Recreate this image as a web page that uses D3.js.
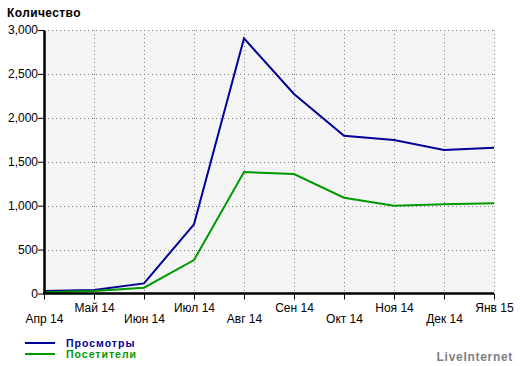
<!DOCTYPE html>
<html>
<head>
<meta charset="utf-8">
<script src="https://cdn.jsdelivr.net/npm/d3@7/dist/d3.min.js"></script>
<style>
  body { margin: 0; background: #fff; }
  text { font-family: Arial, "Liberation Sans", sans-serif; }
</style>
</head>
<body>
<svg id="chart" width="520" height="366"></svg>
<script>
// Data
var months = ["Апр 14", "Май 14", "Июн 14", "Июл 14", "Авг 14", "Сен 14", "Окт 14", "Ноя 14", "Дек 14", "Янв 15"];
var views = [28, 40, 115, 788, 2905, 2271, 1797, 1748, 1634, 1660];
var visitors = [14, 28, 66, 381, 1383, 1360, 1091, 1000, 1016, 1027];
var yTicks = [0, 500, 1000, 1500, 2000, 2500, 3000];

var series = [
    { name: "Просмотры", color: "#000099", values: views },
    { name: "Посетители", color: "#009900", values: visitors }
];

var svg = d3.select("#chart");
// plot box (note: "top" is taken by window.top)
var plot = { left: 44, right: 494, top: 30, bottom: 293.5 };

var x = d3.scalePoint().domain(months).range([plot.left, plot.right]);
var y = d3.scaleLinear().domain([0, 3000]).range([plot.bottom, plot.top]);

// Plot background
svg.append("rect")
    .attr("x", plot.left).attr("y", plot.top)
    .attr("width", plot.right - plot.left).attr("height", plot.bottom - plot.top)
    .style("fill", "#f4f4f4");

// Dotted grid
var grid = svg.append("g").attr("id", "grid");
grid.selectAll(".hgrid")
    .data(yTicks.filter(d => d > 0))
    .enter().append("line")
    .attr("x1", plot.left).attr("x2", plot.right)
    .attr("y1", d => Math.round(y(d)) + 0.5).attr("y2", d => Math.round(y(d)) + 0.5)
    .style("stroke", "#808080")
    .style("stroke-dasharray", "1,3");
grid.selectAll(".vgrid")
    .data(months.slice(1))
    .enter().append("line")
    .attr("x1", d => Math.round(x(d)) + 0.5).attr("x2", d => Math.round(x(d)) + 0.5)
    .attr("y1", plot.top).attr("y2", plot.bottom)
    .style("stroke", "#808080")
    .style("stroke-dasharray", "1,3");

// Lines
var line = d3.line()
    .x((d, i) => x(months[i]))
    .y(d => y(d));
svg.selectAll(".series")
    .data(series)
    .enter().append("path")
    .attr("d", d => line(d.values))
    .style("fill", "none")
    .style("stroke", d => d.color)
    .style("stroke-width", 2);

// Y axis
var yAxis = svg.append("g")
    .attr("transform", `translate(${plot.left},0)`)
    .call(d3.axisLeft(y).tickValues(yTicks).tickFormat(d3.format(",")).tickSize(6).tickSizeOuter(0));
yAxis.select(".domain").style("stroke", "#000").style("stroke-width", 2.5);
yAxis.selectAll(".tick line").style("stroke", "#000");
yAxis.selectAll(".tick text")
    .attr("x", -6)
    .style("font-size", "12px")
    .style("fill", "#000");

// X axis
var xAxis = svg.append("g")
    .attr("transform", `translate(0,${plot.bottom})`)
    .call(d3.axisBottom(x).tickSize(6).tickSizeOuter(0));
xAxis.select(".domain").style("stroke", "#000").style("stroke-width", 2.5)
    .attr("d", `M${plot.left - 1},0H${plot.right}`);
xAxis.selectAll(".tick line").style("stroke", "#000");
xAxis.selectAll(".tick text")
    .attr("y", (d, i) => i % 2 ? 10 : 21)
    .style("font-size", "12px")
    .style("fill", "#000");

// Title
svg.append("text")
    .text("Количество")
    .attr("x", 7).attr("y", 17)
    .style("font-size", "12px")
    .style("font-weight", "bold")
    .style("letter-spacing", "0.4px");

// Legend
var legend = svg.selectAll(".legend")
    .data(series)
    .enter().append("g")
    .attr("transform", (d, i) => `translate(0, ${343 + i * 11})`);
legend.append("line")
    .attr("x1", 25).attr("x2", 55)
    .style("stroke", d => d.color)
    .style("stroke-width", 2);
legend.append("text")
    .text(d => d.name)
    .attr("x", 66).attr("y", 4)
    .style("font-size", "10.5px")
    .style("font-weight", "bold")
    .style("letter-spacing", "1px")
    .style("fill", d => d.color);

// Watermark
svg.append("text")
    .text("LiveInternet")
    .attr("x", 513).attr("y", 361)
    .attr("text-anchor", "end")
    .style("font-size", "12px")
    .style("font-weight", "bold")
    .style("letter-spacing", "0.7px")
    .style("fill", "#808080");
</script>
</body>
</html>
